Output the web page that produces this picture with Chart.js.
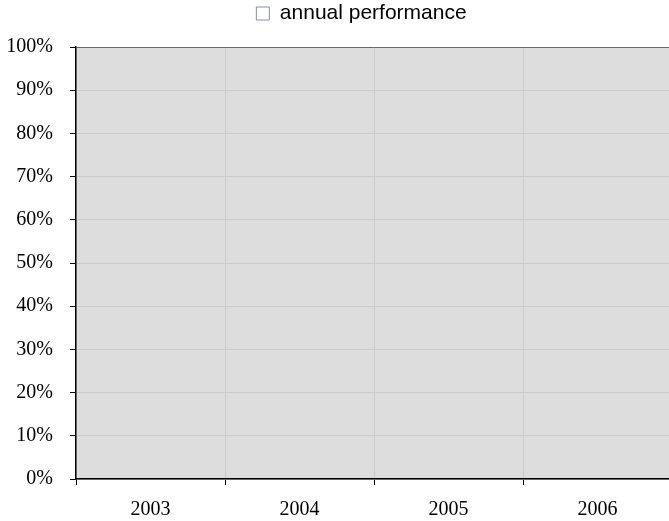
<!DOCTYPE html>
<html>
<head>
<meta charset="utf-8">
<script src="https://cdn.jsdelivr.net/npm/chart.js@4"></script>
<style>
  html, body { margin: 0; padding: 0; background: #ffffff; }
  #wrap { width: 669px; height: 521px; }
</style>
</head>
<body>
<div id="wrap"><canvas id="perf"></canvas></div>
<script>
// data: every year sits at 0 %
const years = ['2003', '2004', '2005', '2006'];
const performance = [0, 0, 0, 0];
const seriesName = 'annual performance';

// fill the plot area grey before anything else is drawn
const plotBackground = {
    id: 'plotBackground',
    beforeDraw(chart) {
        const { ctx, chartArea } = chart;
        ctx.save();
        ctx.fillStyle = '#dddddd';
        ctx.fillRect(chartArea.left, chartArea.top, chartArea.right - chartArea.left, chartArea.bottom - chartArea.top);
        ctx.restore();
    }
};

// extra room under the legend, legend nudged right, plot runs a few px past the edge
const layoutTweaks = {
    id: 'layoutTweaks',
    beforeLayout(chart) {
        const lg = chart.legend;
        if (!lg || lg._spaced) return;
        const fit = lg.fit;
        lg.fit = function () {
            fit.call(this);
            this.height += 13;
        };
        lg._spaced = true;
    },
    afterLayout(chart) {
        const lg = chart.legend;
        if (lg) lg.left += 54;
        const x = chart.scales.x;
        x.right += 3;
        x.width += 3;
        x.configure();
        chart.chartArea.right += 3;
    }
};

new Chart(document.getElementById('perf').getContext('2d'), {
    type: 'bar',
    data: {
        labels: years,
        datasets: [{
            label: seriesName,
            data: performance,
            backgroundColor: '#ffffff',
            borderColor: '#8888bb',
            borderWidth: 1
        }]
    },
    options: {
        responsive: true,
        maintainAspectRatio: false,
        animation: false,
        plugins: {
            legend: {
                display: true,
                position: 'top',
                labels: {
                    boxWidth: 13,
                    boxHeight: 13,
                    padding: 3,
                    color: '#000000',
                    font: { family: 'Liberation Sans, Arial, sans-serif', size: 21 }
                }
            },
            tooltip: { enabled: false }
        },
        scales: {
            x: {
                grid: { offset: true, color: '#cccccc', tickColor: '#000000', tickLength: 6 },
                border: { display: true, color: '#000000', width: 1.5 },
                ticks: {
                    color: '#000000',
                    padding: 13,
                    font: { family: 'Liberation Serif, Times New Roman, serif', size: 20 }
                },
                afterFit(scale) { scale.height = 42; }
            },
            y: {
                min: 0,
                max: 100,
                grid: {
                    color: (c) => (c.tick && c.tick.value === 100 ? '#666666' : '#cccccc'),
                    tickColor: '#000000',
                    tickLength: 6
                },
                border: { display: true, color: '#000000', width: 1.5 },
                ticks: {
                    stepSize: 10,
                    color: '#000000',
                    padding: 17,
                    font: { family: 'Liberation Serif, Times New Roman, serif', size: 20 },
                    callback: (v) => v + '%'
                },
                afterFit(scale) { scale.width = 76; }
            }
        }
    },
    plugins: [plotBackground, layoutTweaks]
});
</script>
</body>
</html>
